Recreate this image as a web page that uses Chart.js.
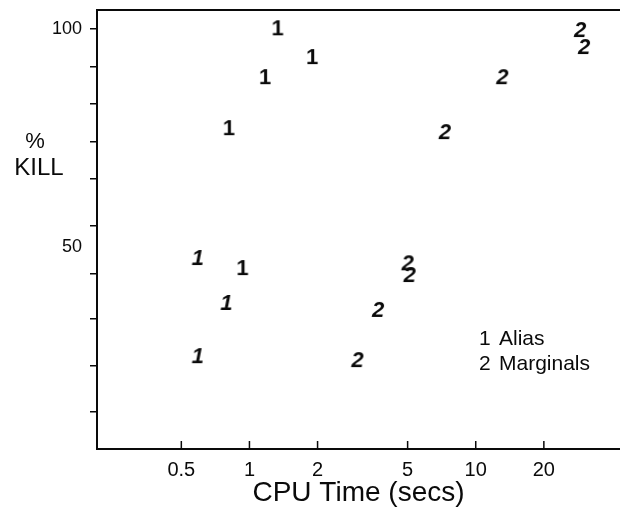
<!DOCTYPE html>
<html><head><meta charset="utf-8">
<script src="https://cdn.jsdelivr.net/npm/chart.js@4"></script>
<style>html,body{margin:0;padding:0;background:#fff}#wrap{position:relative;width:620px;height:514px}</style>
</head><body><div id="wrap"><canvas id="c" width="620" height="514"></canvas></div>
<script>
// ---- data ----
const seriesNames = ['Alias', 'Marginals'];
const aliasTime = [1.33, 1.89, 1.17, 0.81, 0.59, 0.93, 0.79, 0.59];
const aliasKill = [100.2, 93.6, 89.0, 77.3, 47.5, 45.2, 37.2, 25.0];
const aliasItalic = [false, false, false, false, true, false, true, true];
const margTime = [28.9, 30.1, 13.1, 7.3, 5.0, 5.1, 3.7, 3.0];
const margKill = [99.8, 95.9, 89.0, 76.4, 46.3, 43.6, 35.6, 24.1];
const xTicks = [0.5, 1, 2, 5, 10, 20];
const yTicks = [100, 91.3, 82.8, 74.1, 65.6, 55.0, 50, 44.0, 33.5, 22.9, 12.2];
const yLabels = [100, 50];

const FONT = '"Liberation Sans", Arial, sans-serif';
const INK = '#0a0a0a';

function glyph(ch, italic, bold, size) {
  const c = document.createElement('canvas');
  c.width = 24; c.height = 28;
  const g = c.getContext('2d');
  g.fillStyle = INK;
  g.font = (italic ? 'italic ' : '') + (bold ? 'bold ' : '') + size + 'px ' + FONT;
  g.textAlign = 'center'; g.textBaseline = 'middle';
  g.fillText(ch, 12, 15);
  return c;
}

const framePlugin = {
  id: 'frame',
  afterDraw(chart) {
    const { ctx, chartArea: a, scales: { x } } = chart;
    ctx.save();
    ctx.strokeStyle = INK;
    ctx.lineWidth = 2;
    ctx.beginPath(); ctx.moveTo(a.left, a.top); ctx.lineTo(a.right, a.top); ctx.stroke();
    ctx.lineWidth = 1.5;
    ctx.beginPath();
    xTicks.forEach(v => { const px = x.getPixelForValue(v); ctx.moveTo(px, a.bottom); ctx.lineTo(px, a.bottom - 8); });
    ctx.stroke();
    ctx.fillStyle = INK;
    ctx.textAlign = 'center'; ctx.textBaseline = 'middle';
    ctx.font = '22px ' + FONT; ctx.fillText('%', 35, 142);
    ctx.font = '24px ' + FONT; ctx.fillText('KILL', 39, 168);
    ctx.textAlign = 'left';
    ctx.font = '21px ' + FONT;
    seriesNames.forEach((n, i) => {
      ctx.fillText(String(i + 1), 479, 339 + i * 25);
      ctx.fillText(n, 499, 339 + i * 25);
    });
    ctx.restore();
  }
};

new Chart(document.getElementById('c'), {
  type: 'scatter',
  data: {
    datasets: [
      { label: seriesNames[0], data: aliasTime.map((x, i) => ({ x, y: aliasKill[i] })),
        pointStyle: aliasItalic.map(it => glyph('1', it, true, 22)), pointRadius: 10 },
      { label: seriesNames[1], data: margTime.map((x, i) => ({ x, y: margKill[i] })),
        pointStyle: glyph('2', true, true, 22), pointRadius: 10 }
    ]
  },
  options: {
    responsive: false, animation: false, devicePixelRatio: 1,
    layout: { autoPadding: false, padding: { top: 10, left: 0, right: 0, bottom: 0 } },
    plugins: { legend: { display: false }, tooltip: { enabled: false } },
    scales: {
      x: {
        type: 'logarithmic', min: 0.212, max: 43.4,
        afterBuildTicks: s => { s.ticks = xTicks.map(v => ({ value: v })); },
        ticks: { callback: v => String(v), font: { family: FONT, size: 20 }, color: INK, padding: 9, autoSkip: false, maxRotation: 0 },
        grid: { display: false, drawTicks: false },
        border: { display: true, color: INK, width: 2 },
        title: { display: true, text: 'CPU Time (secs)', font: { family: FONT, size: 28 }, color: INK, padding: { top: 0, bottom: 4 } },
        afterFit: s => { s.height = 65; s.paddingLeft = 0; s.paddingRight = 0; }
      },
      y: {
        min: 3.7, max: 104.4,
        afterBuildTicks: s => { s.ticks = yTicks.map(v => ({ value: v })); },
        ticks: { callback: v => yLabels.includes(v) ? String(v) : '', font: { family: FONT, size: 18 }, color: INK, padding: 8, autoSkip: false },
        grid: { drawOnChartArea: false, drawTicks: true, tickLength: 7, lineWidth: 1.5,
          tickColor: c => (c.tick && c.tick.value === 50) ? 'rgba(0,0,0,0)' : INK },
        border: { display: true, color: INK, width: 2 },
        afterFit: s => { s.width = 97; s.paddingTop = 0; s.paddingBottom = 0; }
      }
    }
  },
  plugins: [framePlugin]
});
</script></body></html>
